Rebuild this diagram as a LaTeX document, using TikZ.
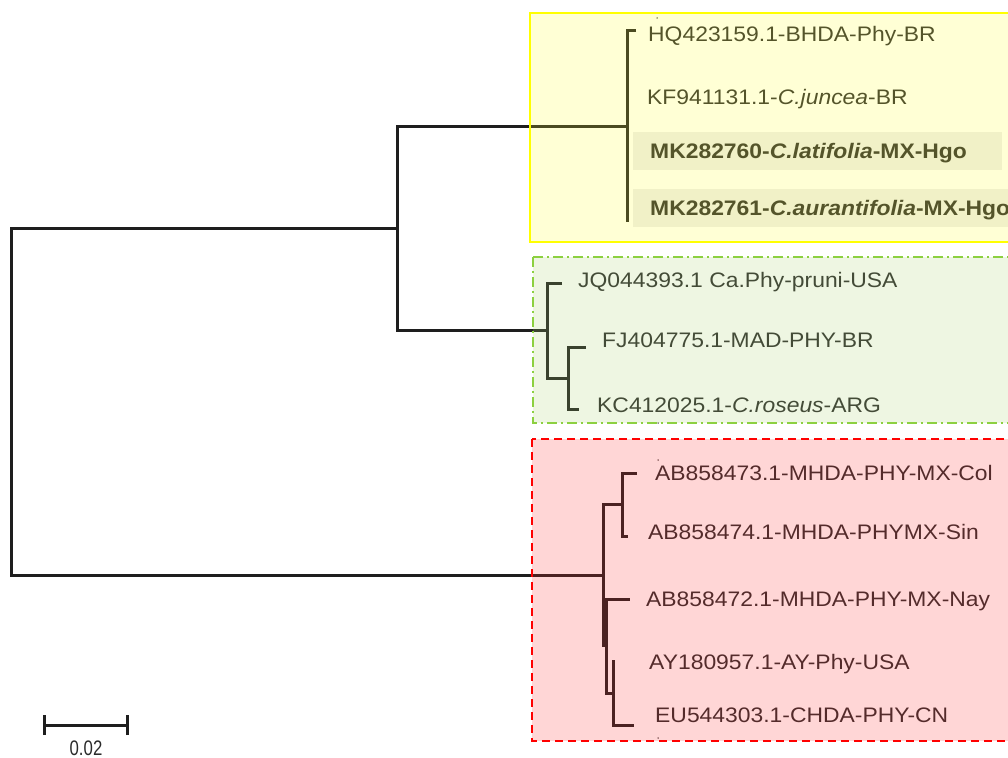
\documentclass[tikz,border=0pt]{standalone}
\usepackage{fontspec}
\setmainfont{Liberation Sans}[FakeStretch=1.09]
\newfontfamily\narrowfont{Liberation Sans}[FakeStretch=0.8]
\definecolor{treec}{HTML}{1E1E1E}
\definecolor{txt}{HTML}{2A2A2A}
\definecolor{hlc}{HTML}{EEEEEE}
\definecolor{yov}{RGB}{255,255,45}
\definecolor{gov}{RGB}{170,210,110}
\definecolor{rov}{RGB}{255,50,50}
\definecolor{gline}{HTML}{8CD040}
\begin{document}
\begin{tikzpicture}[x=1pt,y=-1pt,
  lbl/.style={anchor=base west, inner sep=0pt, font=\fontsize{21}{21}\selectfont, text=txt},
  tree/.style={line width=3pt, draw=treec, line cap=butt, line join=miter},
  hlrow/.style={fill=hlc},
  overlay/.style={fill opacity=0.2, draw=none},
  dotmark/.style={fill=treec, inner sep=0pt, minimum size=1.5pt, circle}
]
\useasboundingbox (0,0) rectangle (1008,757);
\clip (0,0) rectangle (1008,757);

% highlight rows
\fill[hlrow] (633,132) rectangle (1002,170);
\fill[hlrow] (633,189) rectangle (1012,227);

% tree coordinates
\coordinate (R) at (11,401);
\coordinate (A) at (397,228);
\coordinate (Y) at (627,126);
\coordinate (G) at (547,330);
\coordinate (G2) at (568,378);
\coordinate (Rd) at (603,575);
\coordinate (Rd1) at (622,504);
\coordinate (Rd2) at (613,693);

% tip coordinates
\coordinate (tHQ) at (636,31);
\coordinate (yBot) at (627,222);
\coordinate (tJQ) at (562,283);
\coordinate (tFJ) at (586,347);
\coordinate (tKC) at (579,409);
\coordinate (tCol) at (637,473);
\coordinate (tSin) at (628,536);
\coordinate (tNay) at (630,599);
\coordinate (tAY) at (613,660);
\coordinate (tEU) at (634,725);

% main tree
\draw[tree] (Y) -| (A) |- (G);
\draw[tree] (A) -| (R) |- (Rd);
% yellow clade
\draw[tree] (tHQ) -| (yBot);
\draw[tree] (Y) -- ++(0,0);
% green clade
\draw[tree] (tJQ) -| (G) |- (G2);
\draw[tree] (tFJ) -| (G2) |- (tKC);
% red clade
\draw[tree] (Rd1) -| (Rd) -- (603,647);
\draw[tree] (606,598) |- (Rd2);
\draw[tree] (606,599) -- (tNay);
\draw[tree] (tCol) -| (Rd1) |- (tSin);
\draw[tree] (tAY) |- (tEU);

% labels
\node[lbl] (HQ) at (648,42) {HQ423159.1-BHDA-Phy-BR};
\node[lbl] (KF) at (647,105) {KF941131.1-\textit{C.juncea}-BR};
\node[lbl] (MK60) at (650,158) {\textbf{MK282760-\textit{C.latifolia}-MX-Hgo}};
\node[lbl] (MK61) at (650,215) {\textbf{MK282761-\textit{C.aurantifolia}-MX-Hgo}};
\node[lbl] (JQ) at (578,287) {JQ044393.1 Ca.Phy-pruni-USA};
\node[lbl] (FJ) at (602,347) {FJ404775.1-MAD-PHY-BR};
\node[lbl] (KC) at (597,412) {KC412025.1-\textit{C.roseus}-ARG};
\node[lbl] (Col) at (655,480) {AB858473.1-MHDA-PHY-MX-Col};
\node[lbl] (Sin) at (648,539) {AB858474.1-MHDA-PHYMX-Sin};
\node[lbl] (Nay) at (646,606) {AB858472.1-MHDA-PHY-MX-Nay};
\node[lbl] (AY) at (649,669) {AY180957.1-AY-Phy-USA};
\node[lbl] (EU) at (655,722) {EU544303.1-CHDA-PHY-CN};

% small dots
\node[dotmark] (d1) at (657,18) {};
\node[dotmark] (d2) at (658,423) {};
\node[dotmark] (d3) at (658,460) {};
\node[dotmark] (d4) at (658,738) {};

% overlays
\fill[overlay, fill=yov] (530,13) rectangle (1012,242);
\fill[overlay, fill=gov] (533,257) rectangle (1012,423);
\fill[overlay, fill=rov] (532,439) rectangle (1012,741);
\draw[line width=2pt, draw={rgb,255:red,255;green,255;blue,0}] (530,13) rectangle (1012,242);
\draw[line width=2pt, draw=gline, dash pattern=on 10pt off 4pt on 2pt off 4pt] (533,257) rectangle (1012,423);
\draw[line width=2pt, draw=red, dash pattern=on 8pt off 5pt] (532,439) rectangle (1012,741);

% scale bar
\coordinate (sL) at (44,725);
\coordinate (sR) at (127,725);
\draw[tree] (sL) -- (sR);
\draw[tree] ([yshift=-10pt]sL) -- ([yshift=10pt]sL);
\draw[tree] ([yshift=-10pt]sR) -- ([yshift=10pt]sR);
\node[anchor=base, inner sep=0pt, font=\narrowfont\fontsize{21}{21}\selectfont, text=txt] (scl) at (86,755) {0.02};
\end{tikzpicture}
\end{document}
